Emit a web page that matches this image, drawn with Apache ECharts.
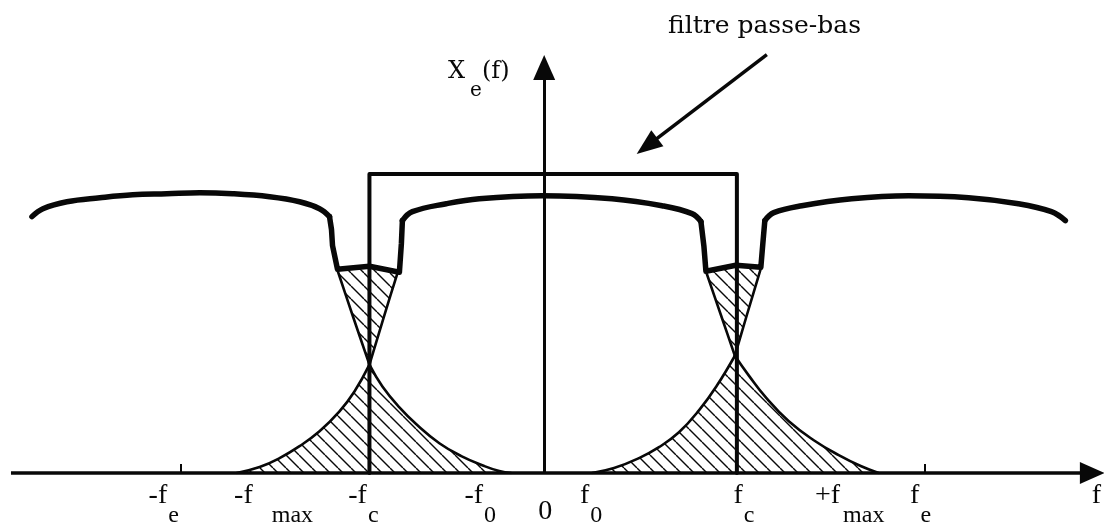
<!DOCTYPE html>
<html><head><meta charset="utf-8">
<script src="https://cdn.jsdelivr.net/npm/echarts@6/dist/echarts.min.js"></script>
<style>html,body{margin:0;padding:0;background:#fff}#c{width:1104px;height:528px}</style>
</head><body><div id="c"></div>
<script>
// x: frequency position (0 on the vertical axis), y: amplitude (0 on the f axis)
// thick summed spectrum
const lobeLeft   = [[-512,258],[-501,266],[-477,273],[-444,277],[-411,280],[-377,281],[-344,282],[-311,281],[-274,278],[-244,273],[-224,266],[-214,258]];
const notchLeft  = [[-214,258],[-212,245],[-211,229],[-206,205],[-174,208],[-144,202],[-142,231],[-141,254]];
const lobeCentre = [[-141,254],[-131,263],[-97,271],[-64,276],[-1,279],[69,276],[119,269],[149,261],[158,253]];
const notchRight = [[158,253],[161,228],[163,203],[193,209],[218,207],[220,231],[222,254]];
const lobeRight  = [[222,254],[231,262],[259,269],[309,276],[366,279],[426,277],[476,271],[509,263],[523,254]];
// overlapping spectrum edges around -fc
const edgeA_low = [[-307,0],[-284,6],[-264,15],[-244,27],[-224,42],[-204,62],[-189,82],[-174,109]];
const edgeA_up  = [[-174,109],[-159,159],[-146,201]];
const edgeB_up  = [[-206,204],[-191,159],[-174,109]];
const edgeB_low = [[-174,109],[-161,87],[-144,66],[-127,49],[-104,30],[-82,17],[-59,7],[-44,2],[-32,0]];
// overlapping spectrum edges around +fc
const edgeC_low = [[49,0],[71,5],[96,15],[116,26],[136,41],[156,63],[174,88],[192,118]];
const edgeD_up  = [[163,203],[178,159],[192,118]];
const edgeC_up  = [[192,118],[204,159],[218,206]];
const edgeD_low = [[192,118],[206,98],[223,76],[246,52],[271,33],[296,18],[318,7],[336,0]];
// low-pass filter
const filterRect = [[-174,0],[-174,301],[194,301],[194,0]];
// axes and annotation arrow
const fAxis = [[-533,0],[550,0]];
const xeAxis = [[1,0],[1,408]];
const pointer = [[224,421],[104,329]];
// tick labels
const tickMarks = [-363, 382];
const tickLabelPos  = [-380, -270, -180, -63, 2, 48, 201, 307, 378, 554];
const tickLabelMain = ['-f','-f','-f','-f','0','f','f','+f','f','f'];
const tickLabelSub  = ['e','max','c','0','','0','c','max','e',''];
const yLabel = ['X','e','(f)'];
const annotation = 'filtre passe-bas';

const INK = '#080808';
const tile = document.createElement('canvas');
tile.width = 13; tile.height = 13;
(function(){
  const g = tile.getContext('2d');
  g.strokeStyle = INK; g.lineWidth = 1.4;
  for (let k = -1; k <= 1; k++) { g.beginPath(); g.moveTo(k*13, 0); g.lineTo(k*13 + 13, 13); g.stroke(); }
})();
const hatch = { image: tile, repeat: 'repeat' };

const lensLeft  = [edgeB_up[0], notchLeft[4], notchLeft[5]].concat(edgeA_up.slice().reverse(), edgeB_up.slice(1, -1).reverse());
const lensRight = [edgeD_up[0], notchRight[3], notchRight[4]].concat(edgeC_up.slice().reverse(), edgeD_up.slice(1, -1).reverse());
const lenses = [lensLeft, lensRight];

const LOW_SMOOTH = 0.45;
function curve(data, width, smooth, z) {
  return { type: 'line', data: data, symbol: 'none', smooth: smooth, z: z, silent: true,
    lineStyle: { color: INK, width: width, cap: 'round', join: 'round' } };
}
function hatchArea(data) {
  return { type: 'line', data: data, symbol: 'none', smooth: LOW_SMOOTH, z: 1, silent: true,
    lineStyle: { width: 0, opacity: 0 }, areaStyle: { color: hatch, opacity: 1 } };
}

const chart = echarts.init(document.getElementById('c'), null, { renderer: 'canvas' });
const serif = 'Liberation Serif';
chart.setOption({
  animation: false,
  backgroundColor: '#fff',
  title: [
    { text: annotation, left: 668, top: 14, padding: 0,
      textStyle: { fontFamily: 'DejaVu Serif', fontSize: 25, fontWeight: 'normal', color: INK, lineHeight: 25 } },
    { text: '{m|' + yLabel[0] + '}{s|' + yLabel[1] + '}{m|' + yLabel[2] + '}', left: 448, top: 60, padding: 0,
      textStyle: { fontWeight: 'normal', rich: {
        m: { fontFamily: 'DejaVu Serif', fontSize: 24, fontWeight: 'normal', color: INK, verticalAlign: 'top' },
        s: { fontFamily: 'DejaVu Serif', fontSize: 20, fontWeight: 'normal', color: INK, verticalAlign: 'top', padding: [21, 0, 0, 5] }
      } } }
  ],
  grid: { left: 0, right: 0, top: 0, bottom: 52, containLabel: false },
  xAxis: { type: 'value', min: -544, max: 560,
    axisLine: { show: false }, splitLine: { show: false },
    axisTick: { show: true, customValues: tickMarks, inside: true, length: 9, lineStyle: { color: INK, width: 2 } },
    axisLabel: { show: true, customValues: tickLabelPos, margin: 9, color: INK,
      formatter: function (v) {
        let i = -1;
        tickLabelPos.forEach(function (p, k) { if (Math.abs(p - v) < 0.01) i = k; });
        if (i < 0) return '';
        const m = tickLabelMain[i], s = tickLabelSub[i];
        if (m === '0') return '{z|0}';
        let out = '{m|' + m + '}';
        if (s) out += (s === 'max' ? (m === '-f' ? '{g|' + s + '}' : '{h|' + s + '}') : '{s|' + s + '}');
        return out;
      },
      rich: {
        m: { fontFamily: serif, fontSize: 28, color: INK, verticalAlign: 'top' },
        z: { fontFamily: serif, fontSize: 28, color: INK, verticalAlign: 'top', padding: [16, 0, 0, 0] },
        s: { fontFamily: serif, fontSize: 24, color: INK, verticalAlign: 'top', padding: [22, 0, 0, 1] },
        g: { fontFamily: serif, fontSize: 24, color: INK, verticalAlign: 'top', padding: [22, 0, 0, 19] },
        h: { fontFamily: serif, fontSize: 24, color: INK, verticalAlign: 'top', padding: [22, 0, 0, 3] }
      } } },
  yAxis: { type: 'value', min: 0, max: 476, show: false },
  series: [
    hatchArea(edgeA_low),
    hatchArea(edgeB_low),
    hatchArea(edgeC_low),
    hatchArea(edgeD_low),
    { type: 'custom', z: 1, silent: true, data: [0, 1],
      renderItem: function (params, api) {
        const pts = lenses[params.dataIndex].map(function (p) { return api.coord(p); });
        return { type: 'polygon', shape: { points: pts }, style: { fill: hatch, stroke: null } };
      } },
    curve(edgeA_low, 2.6, LOW_SMOOTH, 3),
    curve(edgeB_low, 2.6, LOW_SMOOTH, 3),
    curve(edgeC_low, 2.6, LOW_SMOOTH, 3),
    curve(edgeD_low, 2.6, LOW_SMOOTH, 3),
    curve(edgeA_up, 2.6, 0.3, 3),
    curve(edgeB_up, 2.6, 0.3, 3),
    curve(edgeC_up, 2.6, 0.3, 3),
    curve(edgeD_up, 2.6, 0.3, 3),
    curve(lobeLeft, 5.5, 0.4, 4),
    curve(notchLeft, 5.5, false, 4),
    curve(lobeCentre, 5.5, 0.4, 4),
    curve(notchRight, 5.5, false, 4),
    curve(lobeRight, 5.5, 0.4, 4),
    Object.assign(curve(filterRect, 4, false, 5), {
      markLine: { silent: true, animation: false, symbol: ['none', 'triangle'], symbolSize: [22, 25],
        label: { show: false }, emphasis: { disabled: true },
        lineStyle: { color: INK, width: 3.5, type: 'solid' },
        data: [
          [{ coord: fAxis[0] }, { coord: fAxis[1] }],
          [{ coord: xeAxis[0], lineStyle: { width: 3 } }, { coord: xeAxis[1] }],
          [{ coord: pointer[0], lineStyle: { width: 3.5 } }, { coord: pointer[1], symbolSize: [20, 26] }]
        ] } })
  ]
});
</script></body></html>
